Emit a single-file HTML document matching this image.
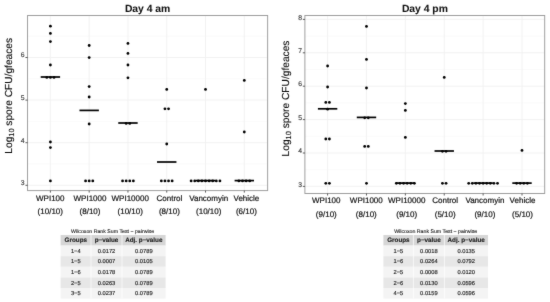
<!DOCTYPE html>
<html><head><meta charset="utf-8"><title>Day 4 spore counts</title>
<style>html,body{margin:0;padding:0;background:#fff;}svg{display:block;}text{font-family:"Liberation Sans", sans-serif;text-rendering:geometricPrecision;paint-order:stroke;stroke-linejoin:round;}</style></head><body>
<svg width="550" height="302" viewBox="0 0 550 302" font-family='"Liberation Sans", sans-serif'>
<defs><filter id="soft" color-interpolation-filters="sRGB" x="0" y="0" width="550" height="302" filterUnits="userSpaceOnUse"><feConvolveMatrix order="3" kernelMatrix="0.015 0.06 0.015 0.06 0.7 0.06 0.015 0.06 0.015" divisor="1" edgeMode="duplicate" preserveAlpha="true"/></filter></defs>
<rect width="550" height="302" fill="#fff"/>
<g filter="url(#soft)">
<rect width="550" height="302" fill="#fff"/>
<line x1="27.55" x2="267.65" y1="164.00" y2="164.00" stroke="#f7f7f7" stroke-width="0.6"/>
<line x1="27.55" x2="267.65" y1="121.40" y2="121.40" stroke="#f7f7f7" stroke-width="0.6"/>
<line x1="27.55" x2="267.65" y1="78.80" y2="78.80" stroke="#f7f7f7" stroke-width="0.6"/>
<line x1="27.55" x2="267.65" y1="36.20" y2="36.20" stroke="#f7f7f7" stroke-width="0.6"/>
<line x1="27.55" x2="267.65" y1="185.30" y2="185.30" stroke="#f1f1f1" stroke-width="0.9"/>
<line x1="27.55" x2="267.65" y1="142.70" y2="142.70" stroke="#f1f1f1" stroke-width="0.9"/>
<line x1="27.55" x2="267.65" y1="100.10" y2="100.10" stroke="#f1f1f1" stroke-width="0.9"/>
<line x1="27.55" x2="267.65" y1="57.50" y2="57.50" stroke="#f1f1f1" stroke-width="0.9"/>
<line x1="50.40" x2="50.40" y1="15.5" y2="190.6" stroke="#f1f1f1" stroke-width="0.9"/>
<line x1="89.18" x2="89.18" y1="15.5" y2="190.6" stroke="#f1f1f1" stroke-width="0.9"/>
<line x1="127.96" x2="127.96" y1="15.5" y2="190.6" stroke="#f1f1f1" stroke-width="0.9"/>
<line x1="166.74" x2="166.74" y1="15.5" y2="190.6" stroke="#f1f1f1" stroke-width="0.9"/>
<line x1="205.52" x2="205.52" y1="15.5" y2="190.6" stroke="#f1f1f1" stroke-width="0.9"/>
<line x1="244.30" x2="244.30" y1="15.5" y2="190.6" stroke="#f1f1f1" stroke-width="0.9"/>
<rect x="27.55" y="15.5" width="240.10" height="175.10" fill="none" stroke="#9a9a9a" stroke-width="0.95"/>
<line x1="25.45" x2="27.55" y1="185.30" y2="185.30" stroke="#333" stroke-width="0.8"/>
<text x="24.60" y="185.20" font-size="6.8" fill="#3a3a3a" stroke="#3a3a3a" stroke-width="0.15" text-anchor="end">3</text>
<line x1="25.45" x2="27.55" y1="142.70" y2="142.70" stroke="#333" stroke-width="0.8"/>
<text x="24.60" y="142.60" font-size="6.8" fill="#3a3a3a" stroke="#3a3a3a" stroke-width="0.15" text-anchor="end">4</text>
<line x1="25.45" x2="27.55" y1="100.10" y2="100.10" stroke="#333" stroke-width="0.8"/>
<text x="24.60" y="100.00" font-size="6.8" fill="#3a3a3a" stroke="#3a3a3a" stroke-width="0.15" text-anchor="end">5</text>
<line x1="25.45" x2="27.55" y1="57.50" y2="57.50" stroke="#333" stroke-width="0.8"/>
<text x="24.60" y="57.40" font-size="6.8" fill="#3a3a3a" stroke="#3a3a3a" stroke-width="0.15" text-anchor="end">6</text>
<line x1="50.40" x2="50.40" y1="190.6" y2="192.60" stroke="#333" stroke-width="0.8"/>
<line x1="89.18" x2="89.18" y1="190.6" y2="192.60" stroke="#333" stroke-width="0.8"/>
<line x1="127.96" x2="127.96" y1="190.6" y2="192.60" stroke="#333" stroke-width="0.8"/>
<line x1="166.74" x2="166.74" y1="190.6" y2="192.60" stroke="#333" stroke-width="0.8"/>
<line x1="205.52" x2="205.52" y1="190.6" y2="192.60" stroke="#333" stroke-width="0.8"/>
<line x1="244.30" x2="244.30" y1="190.6" y2="192.60" stroke="#333" stroke-width="0.8"/>
<text x="147.6" y="11.55" font-size="10.35" font-weight="bold" fill="#111" stroke="#111" stroke-width="0.06" text-anchor="middle">Day 4 am</text>
<text transform="translate(12.4,95.8) rotate(-90)" font-size="10.2" fill="#0a0a0a" stroke="#0a0a0a" stroke-width="0.12" text-anchor="middle">Log<tspan font-size="7.4" dy="1.6">10</tspan><tspan dy="-1.6"> spore CFU/gfeaces</tspan></text>
<line x1="40.70" x2="60.10" y1="77.00" y2="77.00" stroke="#000" stroke-width="1.7"/>
<line x1="79.48" x2="98.88" y1="110.40" y2="110.40" stroke="#000" stroke-width="1.7"/>
<line x1="118.26" x2="137.66" y1="123.00" y2="123.00" stroke="#000" stroke-width="1.7"/>
<line x1="157.04" x2="176.44" y1="162.00" y2="162.00" stroke="#000" stroke-width="1.7"/>
<line x1="195.82" x2="215.22" y1="180.60" y2="180.60" stroke="#000" stroke-width="1.7"/>
<line x1="234.60" x2="254.00" y1="180.60" y2="180.60" stroke="#000" stroke-width="1.7"/>
<circle cx="50.40" cy="26.20" r="1.4" fill="#000"/>
<circle cx="50.40" cy="33.40" r="1.4" fill="#000"/>
<circle cx="50.40" cy="41.60" r="1.4" fill="#000"/>
<circle cx="50.40" cy="65.00" r="1.4" fill="#000"/>
<circle cx="46.80" cy="77.40" r="1.4" fill="#000"/>
<circle cx="50.40" cy="77.40" r="1.4" fill="#000"/>
<circle cx="54.00" cy="77.40" r="1.4" fill="#000"/>
<circle cx="50.40" cy="142.00" r="1.4" fill="#000"/>
<circle cx="50.40" cy="147.60" r="1.4" fill="#000"/>
<circle cx="50.40" cy="180.90" r="1.4" fill="#000"/>
<circle cx="89.18" cy="45.50" r="1.4" fill="#000"/>
<circle cx="89.18" cy="57.60" r="1.4" fill="#000"/>
<circle cx="89.18" cy="86.60" r="1.4" fill="#000"/>
<circle cx="89.18" cy="97.00" r="1.4" fill="#000"/>
<circle cx="89.18" cy="124.00" r="1.4" fill="#000"/>
<circle cx="85.58" cy="180.90" r="1.4" fill="#000"/>
<circle cx="89.18" cy="180.90" r="1.4" fill="#000"/>
<circle cx="92.78" cy="180.90" r="1.4" fill="#000"/>
<circle cx="127.96" cy="43.40" r="1.4" fill="#000"/>
<circle cx="127.96" cy="53.40" r="1.4" fill="#000"/>
<circle cx="127.96" cy="65.00" r="1.4" fill="#000"/>
<circle cx="127.96" cy="77.80" r="1.4" fill="#000"/>
<circle cx="126.16" cy="123.40" r="1.4" fill="#000"/>
<circle cx="129.76" cy="123.40" r="1.4" fill="#000"/>
<circle cx="122.56" cy="180.90" r="1.4" fill="#000"/>
<circle cx="126.16" cy="180.90" r="1.4" fill="#000"/>
<circle cx="129.76" cy="180.90" r="1.4" fill="#000"/>
<circle cx="133.36" cy="180.90" r="1.4" fill="#000"/>
<circle cx="166.74" cy="89.40" r="1.4" fill="#000"/>
<circle cx="164.94" cy="108.80" r="1.4" fill="#000"/>
<circle cx="168.54" cy="108.80" r="1.4" fill="#000"/>
<circle cx="166.74" cy="144.00" r="1.4" fill="#000"/>
<circle cx="161.34" cy="180.90" r="1.4" fill="#000"/>
<circle cx="164.94" cy="180.90" r="1.4" fill="#000"/>
<circle cx="168.54" cy="180.90" r="1.4" fill="#000"/>
<circle cx="172.14" cy="180.90" r="1.4" fill="#000"/>
<circle cx="205.52" cy="89.40" r="1.4" fill="#000"/>
<circle cx="191.12" cy="180.90" r="1.4" fill="#000"/>
<circle cx="194.72" cy="180.90" r="1.4" fill="#000"/>
<circle cx="198.32" cy="180.90" r="1.4" fill="#000"/>
<circle cx="201.92" cy="180.90" r="1.4" fill="#000"/>
<circle cx="205.52" cy="180.90" r="1.4" fill="#000"/>
<circle cx="209.12" cy="180.90" r="1.4" fill="#000"/>
<circle cx="212.72" cy="180.90" r="1.4" fill="#000"/>
<circle cx="216.32" cy="180.90" r="1.4" fill="#000"/>
<circle cx="219.92" cy="180.90" r="1.4" fill="#000"/>
<circle cx="244.30" cy="80.40" r="1.4" fill="#000"/>
<circle cx="244.30" cy="132.00" r="1.4" fill="#000"/>
<circle cx="238.90" cy="180.90" r="1.4" fill="#000"/>
<circle cx="242.50" cy="180.90" r="1.4" fill="#000"/>
<circle cx="246.10" cy="180.90" r="1.4" fill="#000"/>
<circle cx="249.70" cy="180.90" r="1.4" fill="#000"/>
<text x="50.30" y="200.7" font-size="8" fill="#111" stroke="#151515" stroke-width="0.2" text-anchor="middle">WPI100</text>
<text x="50.30" y="214.3" font-size="8" fill="#111" stroke="#151515" stroke-width="0.2" text-anchor="middle">(10/10)</text>
<text x="90.00" y="200.7" font-size="8" fill="#111" stroke="#151515" stroke-width="0.2" text-anchor="middle">WPI1000</text>
<text x="90.00" y="214.3" font-size="8" fill="#111" stroke="#151515" stroke-width="0.2" text-anchor="middle">(8/10)</text>
<text x="130.20" y="200.7" font-size="8" fill="#111" stroke="#151515" stroke-width="0.2" text-anchor="middle">WPI10000</text>
<text x="130.20" y="214.3" font-size="8" fill="#111" stroke="#151515" stroke-width="0.2" text-anchor="middle">(10/10)</text>
<text x="169.40" y="200.7" font-size="8" fill="#111" stroke="#151515" stroke-width="0.2" text-anchor="middle">Control</text>
<text x="169.40" y="214.3" font-size="8" fill="#111" stroke="#151515" stroke-width="0.2" text-anchor="middle">(8/10)</text>
<text x="208.70" y="200.7" font-size="8" fill="#111" stroke="#151515" stroke-width="0.2" text-anchor="middle">Vancomyin</text>
<text x="208.70" y="214.3" font-size="8" fill="#111" stroke="#151515" stroke-width="0.2" text-anchor="middle">(10/10)</text>
<text x="246.40" y="200.7" font-size="8" fill="#111" stroke="#151515" stroke-width="0.2" text-anchor="middle">Vehicle</text>
<text x="246.40" y="214.3" font-size="8" fill="#111" stroke="#151515" stroke-width="0.2" text-anchor="middle">(6/10)</text>
<line x1="304.9" x2="544.7" y1="169.70" y2="169.70" stroke="#f7f7f7" stroke-width="0.6"/>
<line x1="304.9" x2="544.7" y1="136.30" y2="136.30" stroke="#f7f7f7" stroke-width="0.6"/>
<line x1="304.9" x2="544.7" y1="102.90" y2="102.90" stroke="#f7f7f7" stroke-width="0.6"/>
<line x1="304.9" x2="544.7" y1="69.50" y2="69.50" stroke="#f7f7f7" stroke-width="0.6"/>
<line x1="304.9" x2="544.7" y1="36.10" y2="36.10" stroke="#f7f7f7" stroke-width="0.6"/>
<line x1="304.9" x2="544.7" y1="186.40" y2="186.40" stroke="#f1f1f1" stroke-width="0.9"/>
<line x1="304.9" x2="544.7" y1="153.00" y2="153.00" stroke="#f1f1f1" stroke-width="0.9"/>
<line x1="304.9" x2="544.7" y1="119.60" y2="119.60" stroke="#f1f1f1" stroke-width="0.9"/>
<line x1="304.9" x2="544.7" y1="86.20" y2="86.20" stroke="#f1f1f1" stroke-width="0.9"/>
<line x1="304.9" x2="544.7" y1="52.80" y2="52.80" stroke="#f1f1f1" stroke-width="0.9"/>
<line x1="304.9" x2="544.7" y1="19.40" y2="19.40" stroke="#f1f1f1" stroke-width="0.9"/>
<line x1="327.60" x2="327.60" y1="15.5" y2="193.5" stroke="#f1f1f1" stroke-width="0.9"/>
<line x1="366.48" x2="366.48" y1="15.5" y2="193.5" stroke="#f1f1f1" stroke-width="0.9"/>
<line x1="405.36" x2="405.36" y1="15.5" y2="193.5" stroke="#f1f1f1" stroke-width="0.9"/>
<line x1="444.24" x2="444.24" y1="15.5" y2="193.5" stroke="#f1f1f1" stroke-width="0.9"/>
<line x1="483.12" x2="483.12" y1="15.5" y2="193.5" stroke="#f1f1f1" stroke-width="0.9"/>
<line x1="522.00" x2="522.00" y1="15.5" y2="193.5" stroke="#f1f1f1" stroke-width="0.9"/>
<rect x="304.9" y="15.5" width="239.80" height="178.00" fill="none" stroke="#9a9a9a" stroke-width="0.95"/>
<line x1="302.80" x2="304.9" y1="186.40" y2="186.40" stroke="#333" stroke-width="0.8"/>
<text x="302.00" y="186.60" font-size="6.8" fill="#3a3a3a" stroke="#3a3a3a" stroke-width="0.15" text-anchor="end">3</text>
<line x1="302.80" x2="304.9" y1="153.00" y2="153.00" stroke="#333" stroke-width="0.8"/>
<text x="302.00" y="153.20" font-size="6.8" fill="#3a3a3a" stroke="#3a3a3a" stroke-width="0.15" text-anchor="end">4</text>
<line x1="302.80" x2="304.9" y1="119.60" y2="119.60" stroke="#333" stroke-width="0.8"/>
<text x="302.00" y="119.80" font-size="6.8" fill="#3a3a3a" stroke="#3a3a3a" stroke-width="0.15" text-anchor="end">5</text>
<line x1="302.80" x2="304.9" y1="86.20" y2="86.20" stroke="#333" stroke-width="0.8"/>
<text x="302.00" y="86.40" font-size="6.8" fill="#3a3a3a" stroke="#3a3a3a" stroke-width="0.15" text-anchor="end">6</text>
<line x1="302.80" x2="304.9" y1="52.80" y2="52.80" stroke="#333" stroke-width="0.8"/>
<text x="302.00" y="53.00" font-size="6.8" fill="#3a3a3a" stroke="#3a3a3a" stroke-width="0.15" text-anchor="end">7</text>
<line x1="302.80" x2="304.9" y1="19.40" y2="19.40" stroke="#333" stroke-width="0.8"/>
<text x="302.00" y="19.60" font-size="6.8" fill="#3a3a3a" stroke="#3a3a3a" stroke-width="0.15" text-anchor="end">8</text>
<line x1="327.60" x2="327.60" y1="193.5" y2="195.50" stroke="#333" stroke-width="0.8"/>
<line x1="366.48" x2="366.48" y1="193.5" y2="195.50" stroke="#333" stroke-width="0.8"/>
<line x1="405.36" x2="405.36" y1="193.5" y2="195.50" stroke="#333" stroke-width="0.8"/>
<line x1="444.24" x2="444.24" y1="193.5" y2="195.50" stroke="#333" stroke-width="0.8"/>
<line x1="483.12" x2="483.12" y1="193.5" y2="195.50" stroke="#333" stroke-width="0.8"/>
<line x1="522.00" x2="522.00" y1="193.5" y2="195.50" stroke="#333" stroke-width="0.8"/>
<text x="424.9" y="11.55" font-size="10.35" font-weight="bold" fill="#111" stroke="#111" stroke-width="0.06" text-anchor="middle">Day 4 pm</text>
<text transform="translate(289.4,98.5) rotate(-90)" font-size="10.2" fill="#0a0a0a" stroke="#0a0a0a" stroke-width="0.12" text-anchor="middle">Log<tspan font-size="7.4" dy="1.6">10</tspan><tspan dy="-1.6"> spore CFU/gfeaces</tspan></text>
<line x1="317.90" x2="337.30" y1="108.80" y2="108.80" stroke="#000" stroke-width="1.7"/>
<line x1="356.78" x2="376.18" y1="117.40" y2="117.40" stroke="#000" stroke-width="1.7"/>
<line x1="395.66" x2="415.06" y1="183.10" y2="183.10" stroke="#000" stroke-width="1.7"/>
<line x1="434.54" x2="453.94" y1="151.00" y2="151.00" stroke="#000" stroke-width="1.7"/>
<line x1="473.42" x2="492.82" y1="183.10" y2="183.10" stroke="#000" stroke-width="1.7"/>
<line x1="512.30" x2="531.70" y1="183.10" y2="183.10" stroke="#000" stroke-width="1.7"/>
<circle cx="327.60" cy="66.00" r="1.4" fill="#000"/>
<circle cx="327.60" cy="87.00" r="1.4" fill="#000"/>
<circle cx="325.80" cy="102.40" r="1.4" fill="#000"/>
<circle cx="329.40" cy="102.40" r="1.4" fill="#000"/>
<circle cx="327.60" cy="109.20" r="1.4" fill="#000"/>
<circle cx="325.80" cy="139.00" r="1.4" fill="#000"/>
<circle cx="329.40" cy="139.00" r="1.4" fill="#000"/>
<circle cx="325.80" cy="183.30" r="1.4" fill="#000"/>
<circle cx="329.40" cy="183.30" r="1.4" fill="#000"/>
<circle cx="366.48" cy="26.40" r="1.4" fill="#000"/>
<circle cx="366.48" cy="59.40" r="1.4" fill="#000"/>
<circle cx="366.48" cy="88.00" r="1.4" fill="#000"/>
<circle cx="364.68" cy="117.80" r="1.4" fill="#000"/>
<circle cx="368.28" cy="117.80" r="1.4" fill="#000"/>
<circle cx="364.68" cy="146.40" r="1.4" fill="#000"/>
<circle cx="368.28" cy="146.40" r="1.4" fill="#000"/>
<circle cx="366.48" cy="183.30" r="1.4" fill="#000"/>
<circle cx="405.36" cy="103.60" r="1.4" fill="#000"/>
<circle cx="405.36" cy="110.40" r="1.4" fill="#000"/>
<circle cx="405.36" cy="137.40" r="1.4" fill="#000"/>
<circle cx="396.36" cy="183.30" r="1.4" fill="#000"/>
<circle cx="399.96" cy="183.30" r="1.4" fill="#000"/>
<circle cx="403.56" cy="183.30" r="1.4" fill="#000"/>
<circle cx="407.16" cy="183.30" r="1.4" fill="#000"/>
<circle cx="410.76" cy="183.30" r="1.4" fill="#000"/>
<circle cx="414.36" cy="183.30" r="1.4" fill="#000"/>
<circle cx="444.24" cy="77.40" r="1.4" fill="#000"/>
<circle cx="442.44" cy="151.30" r="1.4" fill="#000"/>
<circle cx="446.04" cy="151.30" r="1.4" fill="#000"/>
<circle cx="442.44" cy="183.30" r="1.4" fill="#000"/>
<circle cx="446.04" cy="183.30" r="1.4" fill="#000"/>
<circle cx="468.72" cy="183.30" r="1.4" fill="#000"/>
<circle cx="472.32" cy="183.30" r="1.4" fill="#000"/>
<circle cx="475.92" cy="183.30" r="1.4" fill="#000"/>
<circle cx="479.52" cy="183.30" r="1.4" fill="#000"/>
<circle cx="483.12" cy="183.30" r="1.4" fill="#000"/>
<circle cx="486.72" cy="183.30" r="1.4" fill="#000"/>
<circle cx="490.32" cy="183.30" r="1.4" fill="#000"/>
<circle cx="493.92" cy="183.30" r="1.4" fill="#000"/>
<circle cx="497.52" cy="183.30" r="1.4" fill="#000"/>
<circle cx="522.00" cy="150.40" r="1.4" fill="#000"/>
<circle cx="516.60" cy="183.30" r="1.4" fill="#000"/>
<circle cx="520.20" cy="183.30" r="1.4" fill="#000"/>
<circle cx="523.80" cy="183.30" r="1.4" fill="#000"/>
<circle cx="527.40" cy="183.30" r="1.4" fill="#000"/>
<text x="326.30" y="203.3" font-size="8" fill="#111" stroke="#151515" stroke-width="0.2" text-anchor="middle">WPI100</text>
<text x="326.30" y="216.5" font-size="8" fill="#111" stroke="#151515" stroke-width="0.2" text-anchor="middle">(9/10)</text>
<text x="366.30" y="203.3" font-size="8" fill="#111" stroke="#151515" stroke-width="0.2" text-anchor="middle">WPI1000</text>
<text x="366.30" y="216.5" font-size="8" fill="#111" stroke="#151515" stroke-width="0.2" text-anchor="middle">(8/10)</text>
<text x="406.70" y="203.3" font-size="8" fill="#111" stroke="#151515" stroke-width="0.2" text-anchor="middle">WPI10000</text>
<text x="406.70" y="216.5" font-size="8" fill="#111" stroke="#151515" stroke-width="0.2" text-anchor="middle">(9/10)</text>
<text x="445.20" y="203.3" font-size="8" fill="#111" stroke="#151515" stroke-width="0.2" text-anchor="middle">Control</text>
<text x="445.20" y="216.5" font-size="8" fill="#111" stroke="#151515" stroke-width="0.2" text-anchor="middle">(5/10)</text>
<text x="484.90" y="203.3" font-size="8" fill="#111" stroke="#151515" stroke-width="0.2" text-anchor="middle">Vancomyin</text>
<text x="484.90" y="216.5" font-size="8" fill="#111" stroke="#151515" stroke-width="0.2" text-anchor="middle">(9/10)</text>
<text x="522.50" y="203.3" font-size="8" fill="#111" stroke="#151515" stroke-width="0.2" text-anchor="middle">Vehicle</text>
<text x="522.50" y="216.5" font-size="8" fill="#111" stroke="#151515" stroke-width="0.2" text-anchor="middle">(5/10)</text>
<text x="112.6" y="232.9" font-size="5.22" fill="#1a1a1a" stroke="#1a1a1a" stroke-width="0.12" text-anchor="middle">Wilcoxon Rank Sum Test − pairwise</text>
<rect x="60.6" y="235.0" width="105.00" height="10.6" fill="#d6d6d6"/>
<text x="75.80" y="242.20" font-size="6.3" font-weight="bold" fill="#1a1a1a" stroke="#1a1a1a" stroke-width="0.12" text-anchor="middle">Groups</text>
<text x="106.50" y="242.20" font-size="6.3" font-weight="bold" fill="#1a1a1a" stroke="#1a1a1a" stroke-width="0.12" text-anchor="middle">p−value</text>
<text x="143.80" y="242.20" font-size="6.3" font-weight="bold" fill="#1a1a1a" stroke="#1a1a1a" stroke-width="0.12" text-anchor="middle">Adj. p−value</text>
<rect x="60.6" y="245.60" width="105.00" height="10.6" fill="#f4f4f4"/>
<text x="75.80" y="252.70" font-size="5.75" fill="#1f1f1f" stroke="#1f1f1f" stroke-width="0.15" text-anchor="middle">1−4</text>
<text x="106.50" y="252.70" font-size="5.75" fill="#1f1f1f" stroke="#1f1f1f" stroke-width="0.15" text-anchor="middle">0.0172</text>
<text x="143.80" y="252.70" font-size="5.75" fill="#1f1f1f" stroke="#1f1f1f" stroke-width="0.15" text-anchor="middle">0.0789</text>
<rect x="60.6" y="256.20" width="105.00" height="10.6" fill="#e7e7e7"/>
<text x="75.80" y="263.30" font-size="5.75" fill="#1f1f1f" stroke="#1f1f1f" stroke-width="0.15" text-anchor="middle">1−5</text>
<text x="106.50" y="263.30" font-size="5.75" fill="#1f1f1f" stroke="#1f1f1f" stroke-width="0.15" text-anchor="middle">0.0007</text>
<text x="143.80" y="263.30" font-size="5.75" fill="#1f1f1f" stroke="#1f1f1f" stroke-width="0.15" text-anchor="middle">0.0105</text>
<rect x="60.6" y="266.80" width="105.00" height="10.6" fill="#f4f4f4"/>
<text x="75.80" y="273.90" font-size="5.75" fill="#1f1f1f" stroke="#1f1f1f" stroke-width="0.15" text-anchor="middle">1−6</text>
<text x="106.50" y="273.90" font-size="5.75" fill="#1f1f1f" stroke="#1f1f1f" stroke-width="0.15" text-anchor="middle">0.0178</text>
<text x="143.80" y="273.90" font-size="5.75" fill="#1f1f1f" stroke="#1f1f1f" stroke-width="0.15" text-anchor="middle">0.0789</text>
<rect x="60.6" y="277.40" width="105.00" height="10.6" fill="#e7e7e7"/>
<text x="75.80" y="284.50" font-size="5.75" fill="#1f1f1f" stroke="#1f1f1f" stroke-width="0.15" text-anchor="middle">2−5</text>
<text x="106.50" y="284.50" font-size="5.75" fill="#1f1f1f" stroke="#1f1f1f" stroke-width="0.15" text-anchor="middle">0.0263</text>
<text x="143.80" y="284.50" font-size="5.75" fill="#1f1f1f" stroke="#1f1f1f" stroke-width="0.15" text-anchor="middle">0.0789</text>
<rect x="60.6" y="288.00" width="105.00" height="10.6" fill="#f4f4f4"/>
<text x="75.80" y="295.10" font-size="5.75" fill="#1f1f1f" stroke="#1f1f1f" stroke-width="0.15" text-anchor="middle">3−5</text>
<text x="106.50" y="295.10" font-size="5.75" fill="#1f1f1f" stroke="#1f1f1f" stroke-width="0.15" text-anchor="middle">0.0237</text>
<text x="143.80" y="295.10" font-size="5.75" fill="#1f1f1f" stroke="#1f1f1f" stroke-width="0.15" text-anchor="middle">0.0789</text>
<line x1="91.0" x2="91.0" y1="235.0" y2="298.60" stroke="#fff" stroke-width="0.7"/>
<line x1="122.0" x2="122.0" y1="235.0" y2="298.60" stroke="#fff" stroke-width="0.7"/>
<text x="435.7" y="232.9" font-size="5.22" fill="#1a1a1a" stroke="#1a1a1a" stroke-width="0.12" text-anchor="middle">Wilcoxon Rank Sum Test − pairwise</text>
<rect x="383.4" y="235.0" width="104.60" height="10.6" fill="#d6d6d6"/>
<text x="398.40" y="242.20" font-size="6.3" font-weight="bold" fill="#1a1a1a" stroke="#1a1a1a" stroke-width="0.12" text-anchor="middle">Groups</text>
<text x="428.90" y="242.20" font-size="6.3" font-weight="bold" fill="#1a1a1a" stroke="#1a1a1a" stroke-width="0.12" text-anchor="middle">p−value</text>
<text x="466.20" y="242.20" font-size="6.3" font-weight="bold" fill="#1a1a1a" stroke="#1a1a1a" stroke-width="0.12" text-anchor="middle">Adj. p−value</text>
<rect x="383.4" y="245.60" width="104.60" height="10.6" fill="#f4f4f4"/>
<text x="398.40" y="252.70" font-size="5.75" fill="#1f1f1f" stroke="#1f1f1f" stroke-width="0.15" text-anchor="middle">1−5</text>
<text x="428.90" y="252.70" font-size="5.75" fill="#1f1f1f" stroke="#1f1f1f" stroke-width="0.15" text-anchor="middle">0.0018</text>
<text x="466.20" y="252.70" font-size="5.75" fill="#1f1f1f" stroke="#1f1f1f" stroke-width="0.15" text-anchor="middle">0.0135</text>
<rect x="383.4" y="256.20" width="104.60" height="10.6" fill="#e7e7e7"/>
<text x="398.40" y="263.30" font-size="5.75" fill="#1f1f1f" stroke="#1f1f1f" stroke-width="0.15" text-anchor="middle">1−6</text>
<text x="428.90" y="263.30" font-size="5.75" fill="#1f1f1f" stroke="#1f1f1f" stroke-width="0.15" text-anchor="middle">0.0264</text>
<text x="466.20" y="263.30" font-size="5.75" fill="#1f1f1f" stroke="#1f1f1f" stroke-width="0.15" text-anchor="middle">0.0792</text>
<rect x="383.4" y="266.80" width="104.60" height="10.6" fill="#f4f4f4"/>
<text x="398.40" y="273.90" font-size="5.75" fill="#1f1f1f" stroke="#1f1f1f" stroke-width="0.15" text-anchor="middle">2−5</text>
<text x="428.90" y="273.90" font-size="5.75" fill="#1f1f1f" stroke="#1f1f1f" stroke-width="0.15" text-anchor="middle">0.0008</text>
<text x="466.20" y="273.90" font-size="5.75" fill="#1f1f1f" stroke="#1f1f1f" stroke-width="0.15" text-anchor="middle">0.0120</text>
<rect x="383.4" y="277.40" width="104.60" height="10.6" fill="#e7e7e7"/>
<text x="398.40" y="284.50" font-size="5.75" fill="#1f1f1f" stroke="#1f1f1f" stroke-width="0.15" text-anchor="middle">2−6</text>
<text x="428.90" y="284.50" font-size="5.75" fill="#1f1f1f" stroke="#1f1f1f" stroke-width="0.15" text-anchor="middle">0.0130</text>
<text x="466.20" y="284.50" font-size="5.75" fill="#1f1f1f" stroke="#1f1f1f" stroke-width="0.15" text-anchor="middle">0.0596</text>
<rect x="383.4" y="288.00" width="104.60" height="10.6" fill="#f4f4f4"/>
<text x="398.40" y="295.10" font-size="5.75" fill="#1f1f1f" stroke="#1f1f1f" stroke-width="0.15" text-anchor="middle">4−5</text>
<text x="428.90" y="295.10" font-size="5.75" fill="#1f1f1f" stroke="#1f1f1f" stroke-width="0.15" text-anchor="middle">0.0159</text>
<text x="466.20" y="295.10" font-size="5.75" fill="#1f1f1f" stroke="#1f1f1f" stroke-width="0.15" text-anchor="middle">0.0596</text>
<line x1="413.4" x2="413.4" y1="235.0" y2="298.60" stroke="#fff" stroke-width="0.7"/>
<line x1="444.4" x2="444.4" y1="235.0" y2="298.60" stroke="#fff" stroke-width="0.7"/>
</g></svg></body></html>
